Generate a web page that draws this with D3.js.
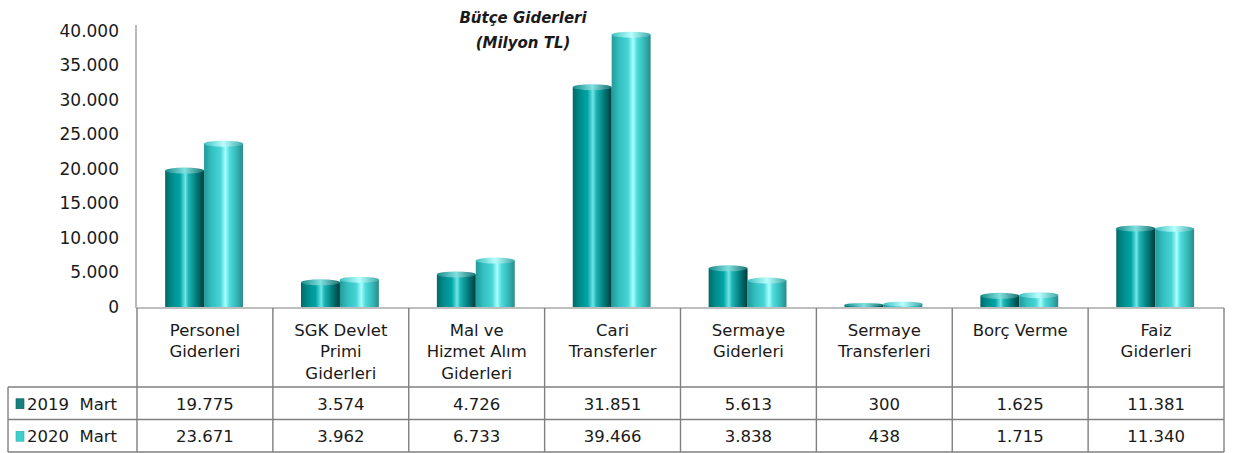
<!DOCTYPE html>
<html>
<head>
<meta charset="utf-8">
<script src="https://cdn.jsdelivr.net/npm/d3@7/dist/d3.min.js"></script>
<style>
html,body{margin:0;padding:0;background:#fff;}
svg{display:block;}
text{font-family:"DejaVu Sans",sans-serif;fill:#1a1a1a;}
</style>
</head>
<body>
<svg id="chart" width="1237" height="453"></svg>
<script>
const categories = [
  ["Personel","Giderleri"],
  ["SGK Devlet","Primi","Giderleri"],
  ["Mal ve","Hizmet Alım","Giderleri"],
  ["Cari","Transferler"],
  ["Sermaye","Giderleri"],
  ["Sermaye","Transferleri"],
  ["Borç Verme"],
  ["Faiz","Giderleri"]
];
const seriesNames = ["2019  Mart","2020  Mart"];
const values2019 = [19775,3574,4726,31851,5613,300,1625,11381];
const values2020 = [23671,3962,6733,39466,3838,438,1715,11340];
const valueLabels2019 = ["19.775","3.574","4.726","31.851","5.613","300","1.625","11.381"];
const valueLabels2020 = ["23.671","3.962","6.733","39.466","3.838","438","1.715","11.340"];
const yTicks = [0,5000,10000,15000,20000,25000,30000,35000,40000];
const titleLines = ["Bütçe Giderleri","(Milyon TL)"];

const series = [values2019, values2020];
const seriesLabels = [valueLabels2019, valueLabels2020];

const svg = d3.select("#chart");
const defs = svg.append("defs");

// cylinder gradients
const grads = [
  {id:"g0", stops:[[0,"#006a6a"],[0.18,"#008c8c"],[0.38,"#00a4a4"],[0.52,"#6fe6e6"],[0.6,"#20b4b4"],[0.8,"#007c7c"],[1,"#003c3c"]]},
  {id:"g1", stops:[[0,"#229a9a"],[0.2,"#33c0c0"],[0.42,"#48d4d4"],[0.55,"#a8ffff"],[0.65,"#50dcdc"],[0.85,"#33b4b4"],[1,"#2a8a8a"]]}
];
grads.forEach(g=>{
  const lg = defs.append("linearGradient").attr("id",g.id).attr("x1","0").attr("x2","1").attr("y1","0").attr("y2","0");
  g.stops.forEach(s=>lg.append("stop").attr("offset",s[0]).attr("stop-color",s[1]));
});
const capGrads = [
  {id:"c0", stops:[[0,"#1a8a8a"],[0.5,"#7fe0e0"],[1,"#1a7070"]]},
  {id:"c1", stops:[[0,"#40c0c0"],[0.5,"#b8ffff"],[1,"#40a8a8"]]}
];
capGrads.forEach(g=>{
  const lg = defs.append("linearGradient").attr("id",g.id).attr("x1","0").attr("x2","1").attr("y1","0").attr("y2","0");
  g.stops.forEach(s=>lg.append("stop").attr("offset",s[0]).attr("stop-color",s[1]));
});

const plotLeft = 137, plotRight = 1224;
const y = d3.scaleLinear().domain([0,40000]).range([307,31]);
const x = d3.scaleBand().domain(d3.range(categories.length)).range([plotLeft,plotRight]).paddingInner(0).paddingOuter(0);
const bw = x.bandwidth();
const xs = d3.scaleBand().domain([0,1]).range([bw*0.207, bw*0.78]).padding(0);

// title
svg.append("g").selectAll("text").data(titleLines).join("text")
  .attr("x",523).attr("y",(d,i)=>18+i*25)
  .attr("text-anchor","middle").attr("dominant-baseline","central")
  .style("font-weight","bold").style("font-style","italic").style("font-size","15px")
  .text(d=>d);

// y axis
const yAxis = d3.axisLeft(y).tickValues(yTicks).tickSize(0).tickPadding(0)
  .tickFormat(d=>d3.format(",")(d).replace(/,/g,"."));
const yg = svg.append("g").attr("transform",`translate(119,0)`).call(yAxis);
yg.select(".domain").remove();
yg.selectAll("text").style("font-size","17px").attr("fill","#1a1a1a")
  .style("font-family","'DejaVu Sans',sans-serif");
svg.append("line").attr("x1",136).attr("x2",136).attr("y1",25).attr("y2",308)
  .attr("stroke","#a8a8a8").attr("stroke-width",1.6);

// bars
const capRy = 3;
const groups = svg.append("g").selectAll("g").data(categories).join("g")
  .attr("transform",(d,i)=>`translate(${x(i)},0)`);
[0,1].forEach(s=>{
  groups.each(function(d,i){
    const g = d3.select(this);
    const v = series[s][i];
    const bx = xs(s), w = xs.bandwidth();
    const top = y(v), bot = y(0);
    g.append("rect").attr("x",bx).attr("y",top).attr("width",w).attr("height",Math.max(0,bot-top))
      .attr("fill",`url(#g${s})`);
    g.append("ellipse").attr("cx",bx+w/2).attr("cy",top).attr("rx",w/2).attr("ry",Math.min(capRy,Math.max(1,(bot-top)/2+1)))
      .attr("fill",`url(#c${s})`);
  });
});

// baseline
svg.append("line").attr("x1",136).attr("x2",plotRight).attr("y1",308).attr("y2",308)
  .attr("stroke","#a8a8a8").attr("stroke-width",1.6);

// table
const tableTop = 308, headerBottom = 387, rowH = 32.5, tableLeft = 8;
const lineColor = "#7f7f7f";
const tg = svg.append("g");
// vertical lines in header + rows
const bounds = d3.range(categories.length+1).map(i=> i<categories.length ? x(i) : plotRight);
tg.selectAll("line.v").data(bounds).join("line").attr("class","v")
  .attr("x1",d=>d).attr("x2",d=>d).attr("y1",tableTop).attr("y2",headerBottom+2*rowH)
  .attr("stroke",lineColor).attr("stroke-width",1.4);
tg.append("line").attr("x1",tableLeft).attr("x2",tableLeft).attr("y1",headerBottom).attr("y2",headerBottom+2*rowH)
  .attr("stroke",lineColor).attr("stroke-width",1.4);
[0,1,2].forEach(r=>{
  tg.append("line").attr("x1",tableLeft).attr("x2",plotRight)
    .attr("y1",headerBottom+r*rowH).attr("y2",headerBottom+r*rowH)
    .attr("stroke",lineColor).attr("stroke-width",1.4);
});
// category labels
const clip = defs.append("clipPath").attr("id","hdrclip");
clip.append("rect").attr("x",plotLeft).attr("y",tableTop).attr("width",plotRight-plotLeft).attr("height",headerBottom-tableTop);
const cl = tg.append("g").attr("clip-path","url(#hdrclip)");
categories.forEach((lines,i)=>{
  cl.append("g").selectAll("text").data(lines).join("text")
    .attr("x",x(i)+bw/2).attr("y",(d,j)=>330+j*21.5)
    .attr("text-anchor","middle").attr("dominant-baseline","central")
    .style("font-size","16.5px").text(d=>d);
});
// value rows
seriesLabels.forEach((labels,r)=>{
  const cy = headerBottom + r*rowH + rowH/2 + 1;
  tg.append("g").selectAll("text").data(labels).join("text")
    .attr("x",(d,i)=>x(i)+bw/2).attr("y",cy)
    .attr("text-anchor","middle").attr("dominant-baseline","central")
    .style("font-size","16.5px").text(d=>d);
  tg.append("rect").attr("x",16).attr("y",cy-5.5).attr("width",8).attr("height",10)
    .attr("fill", r===0 ? "#168080" : "#3ecece")
    .attr("stroke", r===0 ? "#0a5a5a" : "#30b0b0").attr("stroke-width",0.6);
  tg.append("text").attr("x",27).attr("y",cy).attr("dominant-baseline","central")
    .style("font-size","16.5px").style("white-space","pre").attr("xml:space","preserve")
    .text(seriesNames[r]);
});
</script>
</body>
</html>
